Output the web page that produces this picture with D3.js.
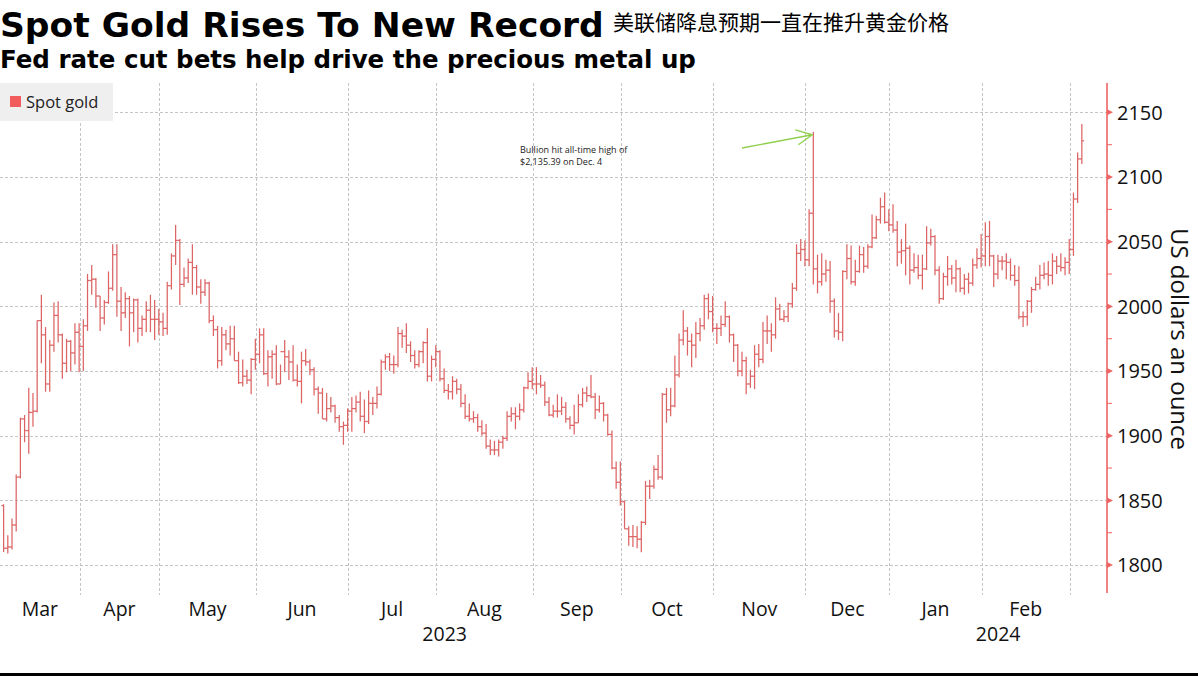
<!DOCTYPE html>
<html>
<head>
<meta charset="utf-8">
<script src="https://cdn.jsdelivr.net/npm/d3@7/dist/d3.min.js"></script>
<style>
body { margin: 0; background: #fff; }
svg { display: block; }
</style>
</head>
<body>
<svg id="chart" width="1198" height="676"></svg>
<script>
// month labels, the year each month belongs to, and the trading days in it
var months = ["Mar", "Apr", "May", "Jun", "Jul", "Aug", "Sep", "Oct", "Nov", "Dec", "Jan", "Feb", "Mar"];
var monthYears = [2023, 2023, 2023, 2023, 2023, 2023, 2023, 2023, 2023, 2023, 2024, 2024, 2024];
var tradingDays = [
	[7,8,9,10,13,14,15,16,17,20,21,22,23,24,27,28,29,30,31],
	[3,4,5,6,10,11,12,13,14,17,18,19,20,21,24,25,26,27,28],
	[1,2,3,4,5,8,9,10,11,12,15,16,17,18,19,22,23,24,25,26,29,30,31],
	[1,2,5,6,7,8,9,12,13,14,15,16,19,20,21,22,23,26,27,28,29,30],
	[3,4,5,6,7,10,11,12,13,14,17,18,19,20,21,24,25,26,27,28,31],
	[1,2,3,4,7,8,9,10,11,14,15,16,17,18,21,22,23,24,25,28,29,30,31],
	[1,4,5,6,7,8,11,12,13,14,15,18,19,20,21,22,25,26,27,28,29],
	[2,3,4,5,6,9,10,11,12,13,16,17,18,19,20,23,24,25,26,27,30,31],
	[1,2,3,6,7,8,9,10,13,14,15,16,17,20,21,22,23,24,27,28,29,30],
	[1,4,5,6,7,8,11,12,13,14,15,18,19,20,21,22,26,27,28,29],
	[2,3,4,5,8,9,10,11,12,15,16,17,18,19,22,23,24,25,26,29,30,31],
	[1,2,5,6,7,8,9,12,13,14,15,16,19,20,21,22,23,26,27,28,29],
	[1,4,5]
];

// spot gold, US$/oz, one entry per trading day
var openPx = [
	1846,1813,1814,1831,1868,1913,1904,1918,1919,1989,1978,1940,1970,1993,1978,1956,1973,1964,1980,
	1969,1985,2020,2021,2008,1991,2003,2014,2040,2004,1995,2006,1995,2005,1983,1990,1997,1990,1990,
	1988,1983,2016,2039,2051,2017,2022,2034,2030,2015,2011,2018,1989,1982,1958,1978,1971,1975,1958,1941,1946,1943,1959,
	1963,1978,1948,1961,1963,1940,1965,1961,1957,1943,1942,1958,1957,1951,1936,1933,1913,1921,1923,1914,1907,1908,
	1919,1921,1926,1915,1911,1925,1925,1932,1957,1961,1955,1955,1979,1977,1970,1962,1955,1965,1972,1946,1959,
	1965,1944,1935,1934,1942,1936,1925,1915,1913,1914,1907,1902,1892,1889,1889,1895,1898,1915,1917,1915,1920,1937,1942,
	1940,1940,1939,1926,1916,1919,1919,1922,1913,1908,1910,1924,1933,1931,1930,1920,1925,1916,1901,1875,1864,
	1849,1828,1822,1822,1820,1833,1861,1861,1874,1868,1932,1920,1923,1947,1974,1981,1973,1970,1979,1985,2006,1996,
	1983,1983,1986,1992,1978,1970,1950,1958,1940,1946,1963,1959,1981,1981,1978,1998,1990,1992,2002,2014,2041,2044,
	2036,2072,2029,2019,2025,2028,2004,1981,1980,2027,2037,2019,2027,2040,2031,2046,2053,2067,2077,2065,
	2063,2059,2042,2043,2045,2028,2030,2024,2029,2049,2054,2028,2006,2023,2029,2022,2029,2014,2021,2018,2032,2037,
	2039,2054,2039,2025,2035,2035,2034,2024,2020,1992,1992,2004,2013,2017,2024,2025,2024,2035,2031,2030,2034,
	2044,2083,2114
];
var highPx = [
	1847,1823,1836,1870,1914,1916,1937,1933,1989,2009,1984,1974,2003,2004,1979,1975,1974,1987,1987,
	1990,2025,2032,2022,2008,2005,2027,2048,2048,2015,2011,2008,2006,2006,1993,2004,2009,2005,1998,
	1995,2019,2041,2063,2052,2030,2037,2048,2032,2021,2021,2019,1993,1985,1984,1982,1985,1985,1965,1959,1951,1960,1975,
	1983,1983,1966,1966,1970,1955,1974,1966,1970,1955,1965,1967,1959,1953,1938,1937,1933,1930,1924,1916,1911,1921,
	1930,1931,1934,1928,1935,1930,1938,1959,1963,1964,1962,1984,1982,1987,1973,1966,1966,1973,1983,1962,1970,
	1966,1952,1940,1946,1944,1940,1932,1925,1919,1917,1912,1909,1897,1896,1897,1900,1919,1922,1922,1925,1938,1949,1953,
	1953,1947,1942,1930,1924,1932,1930,1926,1915,1924,1932,1937,1938,1947,1933,1931,1926,1917,1904,1880,1880,
	1850,1830,1831,1830,1834,1865,1866,1877,1885,1933,1937,1937,1962,1979,1997,1984,1979,1988,1991,2009,2010,2008,
	1987,1993,2004,1993,1979,1971,1965,1961,1951,1970,1971,1988,1993,1987,2007,2002,1997,2003,2018,2048,2052,2051,
	2075,2135,2040,2041,2036,2035,2006,1995,2028,2048,2047,2036,2047,2046,2048,2071,2070,2084,2088,2075,
	2079,2066,2052,2064,2047,2041,2040,2040,2062,2060,2055,2031,2026,2039,2032,2036,2030,2025,2026,2037,2045,2056,
	2065,2066,2040,2040,2039,2041,2037,2032,2031,1996,2005,2015,2023,2032,2034,2035,2041,2039,2041,2038,2052,
	2088,2119,2141
];
var lowPx = [
	1810,1809,1812,1826,1867,1895,1886,1907,1918,1956,1934,1934,1965,1972,1944,1949,1950,1955,1949,
	1950,1981,2009,1999,1981,1986,2002,2012,1992,1981,1991,1969,1980,1972,1977,1980,1980,1974,1978,
	1977,1978,2013,2032,2001,2015,2018,2009,2009,2002,2008,1987,1977,1952,1954,1966,1962,1958,1940,1938,1940,1932,1951,
	1956,1947,1938,1944,1939,1940,1949,1943,1942,1938,1925,1954,1947,1931,1917,1913,1911,1918,1910,1903,1893,1903,
	1903,1918,1911,1902,1909,1916,1921,1931,1951,1950,1948,1953,1968,1964,1957,1952,1953,1956,1942,1942,1953,
	1942,1933,1928,1928,1932,1922,1913,1911,1910,1903,1900,1890,1885,1885,1884,1890,1896,1911,1905,1912,1918,1936,1936,
	1932,1937,1923,1915,1914,1914,1916,1910,1905,1901,1910,1922,1926,1929,1913,1918,1911,1900,1874,1859,1846,
	1828,1815,1814,1813,1810,1831,1851,1859,1866,1866,1910,1915,1922,1945,1970,1962,1953,1960,1973,1982,1990,1980,
	1971,1977,1984,1972,1957,1946,1946,1932,1937,1936,1953,1956,1971,1965,1975,1989,1988,1988,1999,2012,2035,2031,
	2031,2017,2010,2016,2019,1995,1976,1974,1973,2021,2017,2016,2026,2026,2029,2045,2052,2064,2064,2058,
	2057,2031,2033,2024,2017,2026,2021,2013,2028,2047,2024,2002,2005,2016,2017,2011,2011,2009,2010,2016,2029,2030,
	2031,2031,2015,2021,2028,2021,2020,2016,1990,1984,1985,1995,2012,2013,2021,2016,2017,2025,2027,2024,2025,
	2039,2080,2110
];
var closePx = [
	1813,1814,1831,1868,1913,1904,1918,1919,1989,1978,1940,1970,1993,1978,1956,1973,1964,1980,1969,
	1985,2020,2021,2008,1991,2003,2014,2040,2004,1995,2006,1995,2005,1983,1990,1997,1990,1990,1988,
	1983,2016,2039,2051,2017,2022,2034,2030,2015,2011,2018,1989,1982,1958,1978,1971,1975,1958,1941,1946,1943,1959,1963,
	1978,1948,1961,1963,1940,1965,1961,1957,1943,1942,1958,1957,1951,1936,1933,1913,1921,1923,1914,1907,1908,1919,
	1921,1926,1915,1911,1925,1925,1932,1957,1961,1955,1955,1979,1977,1970,1962,1955,1965,1972,1946,1959,1965,
	1944,1935,1934,1942,1936,1925,1915,1913,1914,1907,1902,1892,1889,1889,1895,1898,1915,1917,1915,1920,1937,1942,1940,
	1940,1939,1926,1916,1919,1919,1922,1913,1908,1910,1924,1933,1931,1930,1920,1925,1916,1901,1875,1864,1849,
	1828,1822,1822,1820,1833,1861,1861,1874,1868,1932,1920,1923,1947,1974,1981,1973,1970,1979,1985,2006,1996,1983,
	1983,1986,1992,1978,1970,1950,1958,1940,1946,1963,1959,1981,1981,1978,1998,1990,1992,2002,2014,2041,2044,2036,
	2072,2029,2019,2025,2028,2004,1981,1980,2027,2037,2019,2027,2040,2031,2046,2053,2067,2077,2065,2063,
	2059,2042,2043,2045,2028,2030,2024,2029,2049,2054,2028,2006,2023,2029,2022,2029,2014,2021,2018,2032,2037,2039,
	2054,2039,2025,2035,2035,2034,2024,2020,1992,1992,2004,2013,2017,2024,2025,2024,2035,2031,2030,2034,2044,
	2083,2114,2128
];

var yTicks = [1800, 1850, 1900, 1950, 2000, 2050, 2100, 2150];
var yMinorTicks = [1825, 1875, 1925, 1975, 2025, 2075, 2125];

var barColor = "#dc6464",
	axisColor = "#ee6363",
	gridColor = "#c4c4c4";

var svg = d3.select("#chart"),
	margin = {top: 83, left: 0, bottom: 83, right: 91},
	width = +svg.attr("width") - margin.right,
	plotBottom = 593;

// flatten the months into one row per trading day
var data = [];
var monthStart = [];
tradingDays.forEach(function(days, m) {
	monthStart.push(data.length);
	days.forEach(function(d) {
		var i = data.length;
		data.push({i: i, month: m, day: d, open: openPx[i], high: highPx[i], low: lowPx[i], close: closePx[i]});
	});
});

var x = d3.scaleLinear()
	.domain([-0.86, 263])
	.range([margin.left, width]);

var y = d3.scaleLinear()
	.domain([1778.4, 2172.7])
	.range([plotBottom, margin.top]);

// month boundaries sit just before the first trading day of the month
var bounds = monthStart.map(function(s, m) { return m == 0 ? x.range()[0] : x(s - 0.88); });

// grid
svg.append("g").attr("class", "y-grid")
	.selectAll("line").data(yTicks).enter().append("line")
	.attr("x1", 0).attr("x2", width)
	.attr("y1", d => Math.round(y(d)) + 0.5).attr("y2", d => Math.round(y(d)) + 0.5)
	.attr("stroke", gridColor).attr("stroke-dasharray", "3,2");

svg.append("g").attr("class", "x-grid")
	.selectAll("line").data(bounds.slice(1)).enter().append("line")
	.attr("x1", d => Math.round(d) + 0.5).attr("x2", d => Math.round(d) + 0.5)
	.attr("y1", margin.top).attr("y2", plotBottom + 2)
	.attr("stroke", gridColor).attr("stroke-dasharray", "3,2");

// legend
svg.append("rect").attr("x", 0).attr("y", 83).attr("width", 113).attr("height", 38).attr("fill", "#efefef");
svg.append("rect").attr("x", 10).attr("y", 96).attr("width", 11).attr("height", 11).attr("fill", "#f25c5c");
svg.append("text").attr("x", 26).attr("y", 108)
	.style("font-family", "Open Sans").style("font-size", "16.5px").attr("fill", "#222")
	.text("Spot gold");

// OHLC bars
var bars = svg.append("g").attr("class", "bars")
	.attr("stroke", barColor).attr("stroke-width", 1.25);

bars.selectAll(".hl").data(data).enter().append("line")
	.attr("class", "hl")
	.attr("x1", d => x(d.i)).attr("x2", d => x(d.i))
	.attr("y1", d => y(d.high)).attr("y2", d => y(d.low));

bars.selectAll(".op").data(data).enter().append("line")
	.attr("class", "op")
	.attr("x1", d => x(d.i) - 2.2).attr("x2", d => x(d.i))
	.attr("y1", d => y(d.open)).attr("y2", d => y(d.open));

bars.selectAll(".cl").data(data).enter().append("line")
	.attr("class", "cl")
	.attr("x1", d => x(d.i)).attr("x2", d => x(d.i) + 2.2)
	.attr("y1", d => y(d.close)).attr("y2", d => y(d.close));

// y axis on the right
var axis = svg.append("g").attr("class", "y-axis");
axis.append("line")
	.attr("x1", width).attr("x2", width)
	.attr("y1", margin.top).attr("y2", plotBottom)
	.attr("stroke", axisColor).attr("stroke-width", 1.6);
axis.selectAll(".major").data(yTicks).enter().append("path")
	.attr("class", "major")
	.attr("d", d => "M" + width + "," + (y(d) - 3) + "L" + (width + 6) + "," + y(d) + "L" + width + "," + (y(d) + 3) + "Z")
	.attr("fill", axisColor);
axis.selectAll(".minor").data(yMinorTicks).enter().append("line")
	.attr("class", "minor")
	.attr("x1", width).attr("x2", width + 5)
	.attr("y1", d => y(d)).attr("y2", d => y(d))
	.attr("stroke", axisColor);
axis.selectAll(".lbl").data(yTicks).enter().append("text")
	.attr("class", "lbl")
	.attr("x", width + 10).attr("y", d => y(d)).attr("dy", "0.36em")
	.style("font-family", "Open Sans").style("font-size", "20px").attr("fill", "#111")
	.text(d => d);
svg.append("text")
	.attr("transform", "translate(1171," + 339 + ") rotate(90)")
	.attr("text-anchor", "middle")
	.style("font-family", "Open Sans").style("font-size", "24px").attr("fill", "#111")
	.text("US dollars an ounce");

// x axis labels: months between boundaries, years underneath
var monthLabels = months.slice(0, 12).map(function(mn, m) {
	return {name: mn, cx: (bounds[m] + bounds[m + 1]) / 2};
});
svg.append("g").attr("class", "x-axis")
	.selectAll("text").data(monthLabels).enter().append("text")
	.attr("x", d => d.cx).attr("y", 616)
	.attr("text-anchor", "middle")
	.style("font-family", "Open Sans").style("font-size", "19.5px").attr("fill", "#111")
	.text(d => d.name);

var janIdx = monthYears.indexOf(2024);
var yearLabels = [
	{name: monthYears[0], cx: (bounds[0] + bounds[janIdx]) / 2},
	{name: monthYears[janIdx], cx: (bounds[janIdx] + width) / 2}
];
svg.append("g").attr("class", "years")
	.selectAll("text").data(yearLabels).enter().append("text")
	.attr("x", d => d.cx).attr("y", 641)
	.attr("text-anchor", "middle")
	.style("font-family", "Open Sans").style("font-size", "19.5px").attr("fill", "#111")
	.text(d => d.name);

// annotation for the Dec. 4 record
var peak = data[monthStart[9] + 1];
svg.append("text").attr("x", 520).attr("y", 153)
	.style("font-family", "Open Sans").style("font-size", "9px").attr("fill", "#222")
	.text("Bullion hit all-time high of");
svg.append("text").attr("x", 520).attr("y", 165)
	.style("font-family", "Open Sans").style("font-size", "9px").attr("fill", "#222")
	.text("$2,135.39 on Dec. 4");
var tipX = x(peak.i) - 1, tipY = y(peak.high) + 3;
svg.append("path")
	.attr("d", "M742,148L" + tipX + "," + tipY + "M" + (tipX - 17) + "," + (tipY - 5) + "L" + tipX + "," + tipY + "L" + (tipX - 14) + "," + (tipY + 10))
	.attr("fill", "none").attr("stroke", "#8fcf4c").attr("stroke-width", 1.3);

// titles
svg.append("text").attr("x", 0).attr("y", 37)
	.style("font-family", "DejaVu Sans").style("font-weight", "bold").style("font-size", "34.5px").attr("fill", "#000")
	.text("Spot Gold Rises To New Record");
svg.append("text").attr("x", 613).attr("y", 30)
	.style("font-family", "Noto Sans CJK SC").style("font-size", "21px").attr("fill", "#000")
	.text("美联储降息预期一直在推升黄金价格");
svg.append("text").attr("x", 0).attr("y", 68)
	.style("font-family", "DejaVu Sans").style("font-weight", "bold").style("font-size", "24.5px").attr("fill", "#000")
	.text("Fed rate cut bets help drive the precious metal up");

svg.append("rect").attr("x", 0).attr("y", 673).attr("width", 1198).attr("height", 3).attr("fill", "#000");
</script>
</body>
</html>
